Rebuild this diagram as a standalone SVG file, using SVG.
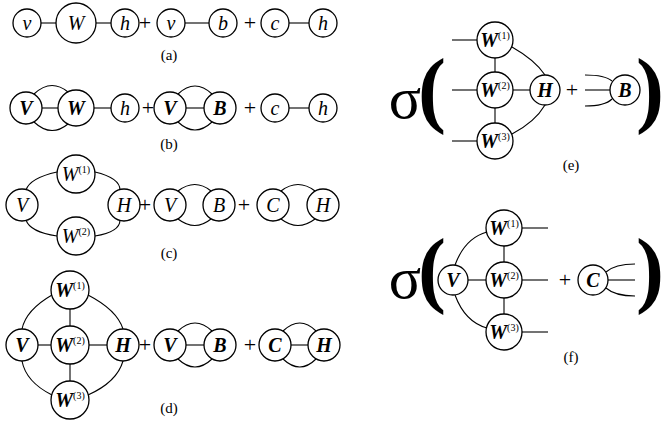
<svg xmlns="http://www.w3.org/2000/svg" width="665" height="425" viewBox="0 0 665 425">
<style>
circle{fill:#fff;stroke:#000;stroke-width:1.3}
.e path,.e line{fill:none;stroke:#000;stroke-width:1.1}
text{font-family:"Liberation Serif","DejaVu Serif",serif;text-anchor:middle;fill:#000}
.m{font-style:italic;font-size:20px}
.c{font-style:italic;font-weight:bold;font-size:20px}
.s{font-size:10px;font-style:normal;font-weight:normal}
.p{font-size:22px}
.l{font-size:15px}
.g{font-size:60px}
.b{font-size:84px;font-weight:bold}
</style>
<g class="e" id="connectors">
<line x1="41" y1="23" x2="56" y2="23"/><line x1="96" y1="23" x2="111" y2="23"/>
<line x1="185" y1="23" x2="209" y2="23"/><line x1="289" y1="23" x2="309" y2="23"/>
<line x1="42" y1="108" x2="58" y2="108"/><line x1="94" y1="108" x2="111" y2="108"/>
<path d="M34,94 Q51,78 68,92"/><path d="M34,122 Q51,138 68,124"/>
<line x1="186" y1="108" x2="204" y2="108"/>
<path d="M178,94 Q195,78 212,94"/><path d="M178,122 Q195,138 212,122"/>
<line x1="289" y1="108" x2="309" y2="108"/>
<path d="M57,172 Q30,178 26,190"/><path d="M95,172 Q120,178 120,190"/>
<path d="M26,220 Q30,232 57,236"/><path d="M120,220 Q120,232 95,236"/>
<path d="M178,191 Q195,178 211,191"/><path d="M178,219 Q195,232 211,219"/>
<path d="M281,191 Q298,178 315,191"/><path d="M281,219 Q298,232 315,219"/>
<line x1="38" y1="345" x2="51" y2="345"/><line x1="89" y1="345" x2="107" y2="345"/>
<line x1="70" y1="309" x2="70" y2="326"/><line x1="70" y1="364" x2="70" y2="381"/>
<path d="M52,295 Q26,310 22,329"/><path d="M88,295 Q117,310 123,329"/>
<path d="M22,361 Q26,382 52,395"/><path d="M123,361 Q117,382 88,395"/>
<line x1="186" y1="345" x2="204" y2="345"/>
<path d="M178,331 Q195,315 212,331"/><path d="M178,359 Q195,375 212,359"/>
<line x1="291" y1="345" x2="308" y2="345"/>
<path d="M283,331 Q300,315 316,331"/><path d="M283,359 Q300,375 316,359"/>
<line x1="452" y1="40" x2="477" y2="40"/><line x1="452" y1="90" x2="477" y2="90"/><line x1="452" y1="141" x2="477" y2="141"/>
<line x1="495" y1="58" x2="495" y2="72"/><line x1="495" y1="108" x2="495" y2="123"/>
<line x1="513" y1="90" x2="530" y2="90"/>
<path d="M512,47 Q535,60 545,75"/><path d="M512,134 Q535,122 545,105"/>
<path d="M585,75 Q605,75 612,81"/><line x1="585" y1="90" x2="610" y2="90"/><path d="M585,106 Q605,106 612,99"/>
<line x1="522" y1="228" x2="548" y2="228"/><line x1="522" y1="280" x2="548" y2="280"/><line x1="522" y1="332" x2="548" y2="332"/>
<line x1="504" y1="246" x2="504" y2="262"/><line x1="504" y1="298" x2="504" y2="314"/>
<line x1="468" y1="280" x2="486" y2="280"/>
<path d="M455,265 Q465,238 487,232"/><path d="M455,295 Q465,322 487,328"/>
<path d="M606,272 Q615,264 635,264"/><line x1="608" y1="280" x2="635" y2="280"/><path d="M606,288 Q615,296 635,296"/>
</g>
<g id="a">
<circle cx="27" cy="23" r="14"/><text class="m" x="27" y="30">v</text>
<circle cx="76" cy="23" r="20"/><text class="m" x="76" y="30">W</text>
<circle cx="125" cy="23" r="14"/><text class="m" x="125" y="30">h</text>
<text class="p" x="145" y="30">+</text>
<circle cx="171" cy="23" r="14"/><text class="m" x="171" y="30">v</text>
<circle cx="223" cy="23" r="14"/><text class="m" x="223" y="30">b</text>
<text class="p" x="250" y="30">+</text>
<circle cx="275" cy="23" r="14"/><text class="m" x="275" y="30">c</text>
<circle cx="323" cy="23" r="14"/><text class="m" x="323" y="30">h</text>
<text class="l" x="169" y="60">(a)</text>
</g>
<g id="b">
<circle cx="26" cy="108" r="16"/><text class="c" x="26" y="115">V</text>
<circle cx="76" cy="108" r="18"/><text class="c" x="76" y="115">W</text>
<circle cx="125" cy="108" r="14"/><text class="m" x="125" y="115">h</text>
<text class="p" x="148" y="115">+</text>
<circle cx="170" cy="108" r="16"/><text class="c" x="170" y="115">V</text>
<circle cx="220" cy="108" r="16"/><text class="c" x="220" y="115">B</text>
<text class="p" x="250" y="115">+</text>
<circle cx="275" cy="108" r="14"/><text class="m" x="275" y="115">c</text>
<circle cx="323" cy="108" r="14"/><text class="m" x="323" y="115">h</text>
<text class="l" x="169" y="149">(b)</text>
</g>
<g id="c">
<circle cx="76" cy="174" r="19"/><text class="m" x="76" y="181">W<tspan class="s" dy="-8">(1)</tspan></text>
<circle cx="22" cy="205" r="16"/><text class="m" x="22" y="212">V</text>
<circle cx="124" cy="205" r="16"/><text class="m" x="124" y="212">H</text>
<circle cx="76" cy="236" r="19"/><text class="m" x="76" y="243">W<tspan class="s" dy="-8">(2)</tspan></text>
<text class="p" x="145" y="212">+</text>
<circle cx="170" cy="205" r="16"/><text class="m" x="170" y="212">V</text>
<circle cx="219" cy="205" r="16"/><text class="m" x="219" y="212">B</text>
<text class="p" x="244" y="212">+</text>
<circle cx="273" cy="205" r="16"/><text class="m" x="273" y="212">C</text>
<circle cx="323" cy="205" r="16"/><text class="m" x="323" y="212">H</text>
<text class="l" x="169" y="258">(c)</text>
</g>
<g id="d">
<circle cx="70" cy="290" r="19"/><text class="c" x="70" y="297">W<tspan class="s" dy="-8">(1)</tspan></text>
<circle cx="22" cy="345" r="16"/><text class="c" x="22" y="352">V</text>
<circle cx="70" cy="345" r="19"/><text class="c" x="70" y="352">W<tspan class="s" dy="-8">(2)</tspan></text>
<circle cx="123" cy="345" r="16"/><text class="c" x="123" y="352">H</text>
<circle cx="70" cy="400" r="19"/><text class="c" x="70" y="407">W<tspan class="s" dy="-8">(3)</tspan></text>
<text class="p" x="145" y="352">+</text>
<circle cx="170" cy="345" r="16"/><text class="c" x="170" y="352">V</text>
<circle cx="220" cy="345" r="16"/><text class="c" x="220" y="352">B</text>
<text class="p" x="250" y="352">+</text>
<circle cx="275" cy="345" r="16"/><text class="c" x="275" y="352">C</text>
<circle cx="324" cy="345" r="16"/><text class="c" x="324" y="352">H</text>
<text class="l" x="169" y="413">(d)</text>
</g>
<g id="e">
<text class="g" x="405" y="118">σ</text><text class="b" x="432" y="117">(</text><text class="b" x="650" y="117">)</text>
<circle cx="495" cy="40" r="18"/><text class="c" x="495" y="47">W<tspan class="s" dy="-8">(1)</tspan></text>
<circle cx="495" cy="90" r="18"/><text class="c" x="495" y="97">W<tspan class="s" dy="-8">(2)</tspan></text>
<circle cx="495" cy="141" r="18"/><text class="c" x="495" y="148">W<tspan class="s" dy="-8">(3)</tspan></text>
<circle cx="545" cy="90" r="15"/><text class="c" x="545" y="97">H</text>
<text class="p" x="572" y="97">+</text>
<circle cx="625" cy="90" r="15"/><text class="c" x="625" y="97">B</text>
<text class="l" x="571" y="170">(e)</text>
</g>
<g id="f">
<text class="g" x="405" y="298">σ</text><text class="b" x="432" y="297">(</text><text class="b" x="650" y="297">)</text>
<circle cx="504" cy="228" r="18"/><text class="c" x="504" y="235">W<tspan class="s" dy="-8">(1)</tspan></text>
<circle cx="504" cy="280" r="18"/><text class="c" x="504" y="287">W<tspan class="s" dy="-8">(2)</tspan></text>
<circle cx="504" cy="332" r="18"/><text class="c" x="504" y="339">W<tspan class="s" dy="-8">(3)</tspan></text>
<circle cx="453" cy="280" r="15"/><text class="c" x="453" y="287">V</text>
<text class="p" x="565" y="287">+</text>
<circle cx="593" cy="280" r="15"/><text class="c" x="593" y="287">C</text>
<text class="l" x="571" y="362">(f)</text>
</g>
</svg>
